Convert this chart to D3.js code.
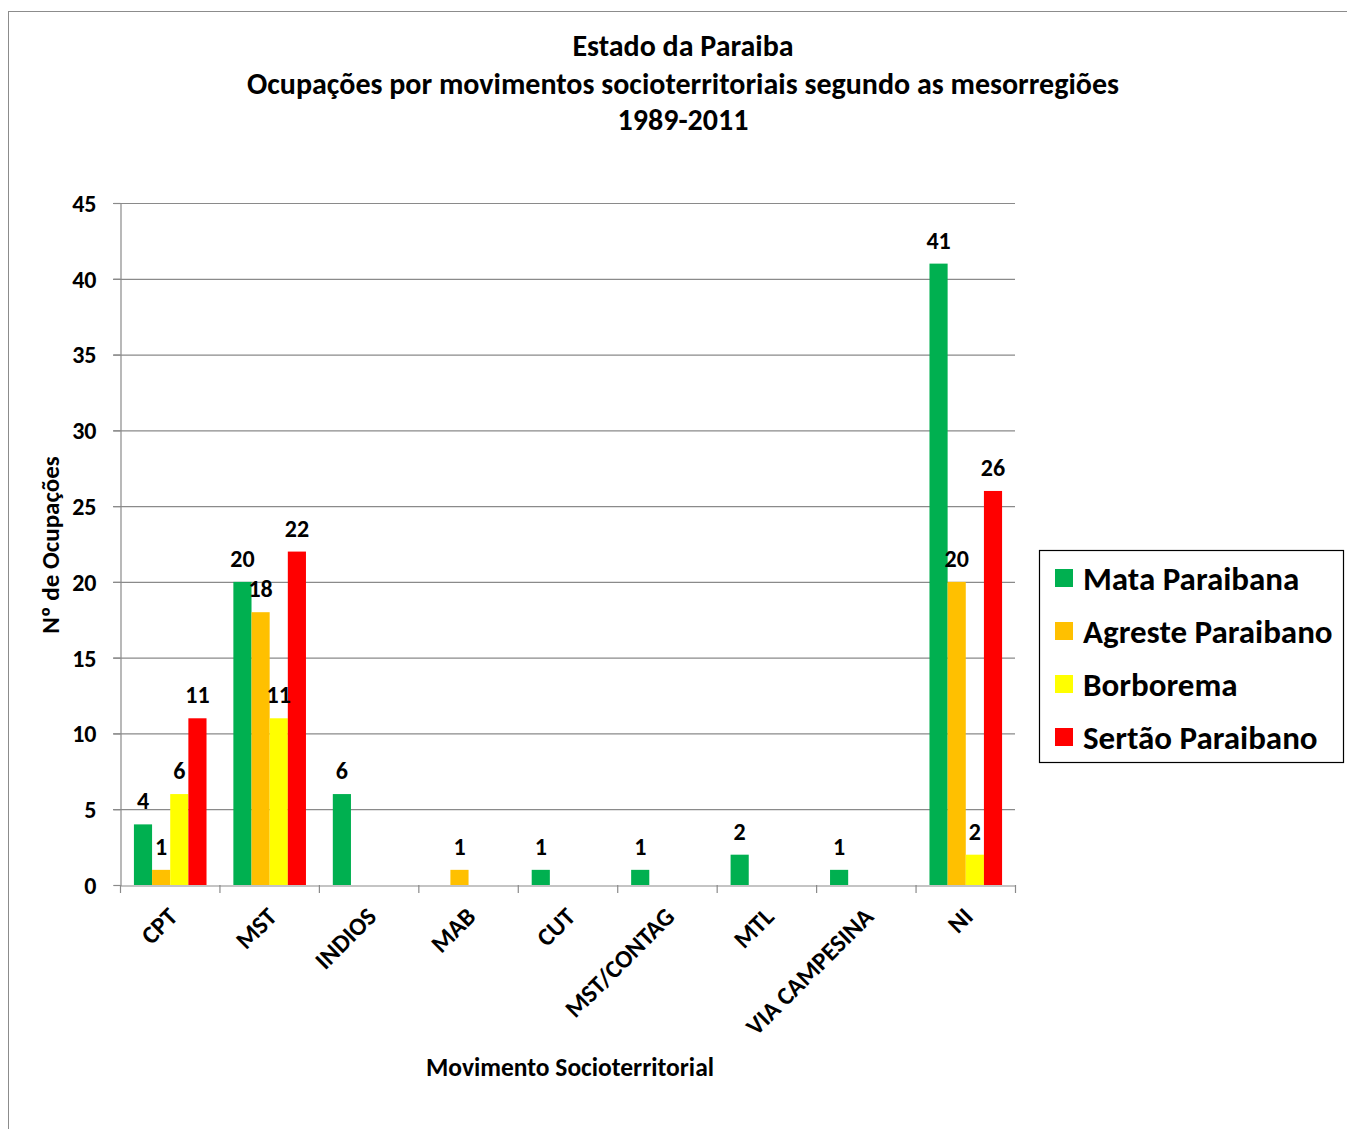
<!DOCTYPE html>
<html><head><meta charset="utf-8">
<script src="https://cdn.jsdelivr.net/npm/d3@7"></script>
<style>
body{margin:0;background:#fff;}
text{font-family:Carlito,Calibri,Lato,"Open Sans",sans-serif;font-weight:bold;fill:#000;}
</style></head>
<body><svg id="c" width="1347" height="1129"></svg>
<script>
const categories = ["CPT","MST","INDIOS","MAB","CUT","MST/CONTAG","MTL","VIA CAMPESINA","NI"];
const seriesNames = ["Mata Paraibana","Agreste Paraibano","Borborema","Sertão Paraibano"];
const mata     = [4, 20, 6, null, 1, 1, 2, 1, 41];
const agreste  = [1, 18, null, 1, null, null, null, null, 20];
const borborema= [6, 11, null, null, null, null, null, null, 2];
const sertao   = [11, 22, null, null, null, null, null, null, 26];
const yTicks = [0,5,10,15,20,25,30,35,40,45];
const colors = ["#00B050","#FFC000","#FFFF00","#FF0000"];
const titleLines = ["Estado da Paraiba","Ocupações por movimentos socioterritoriais segundo as mesorregiões","1989-2011"];

const seriesValues = [mata, agreste, borborema, sertao];
const svg = d3.select("#c");

// outer border
svg.append("rect").attr("x",8.5).attr("y",11.5).attr("width",1360).attr("height",1140)
  .attr("fill","none").attr("stroke","#8c8c8c").attr("stroke-width",1);

const pL=120, pR=1015, pT=203, pB=885;
const x0 = d3.scaleBand().domain(categories).range([pL,pR]).paddingInner(0).paddingOuter(0);
const bw = x0.bandwidth();
const x1 = d3.scaleBand().domain(seriesNames).range([bw*0.14, bw*0.87]).padding(0);
const y = d3.scaleLinear().domain([0,45]).range([pB,pT]);

// gridlines
svg.append("g").selectAll("line").data(yTicks.filter(d=>d>0)).join("line")
  .attr("x1",pL-7).attr("x2",pR).attr("y1",d=>y(d)+0.5).attr("y2",d=>y(d)+0.5)
  .attr("stroke","#8a8a8a").attr("stroke-width",1.2);

// y axis
const yAxis = svg.append("g").attr("transform",`translate(${pL+0.5},0)`)
  .call(d3.axisLeft(y).tickValues(yTicks).tickSize(7).tickPadding(17));
yAxis.select(".domain").attr("stroke","#8a8a8a").attr("stroke-width",1.2);
yAxis.selectAll(".tick line").attr("stroke","#8a8a8a").attr("stroke-width",1.2);
yAxis.selectAll(".tick text").style("font-size","24px").style("font-family","Carlito,Calibri,Lato,sans-serif").style("font-weight","bold").attr("fill","#000").attr("dy","0.35em");

// bars
const flat = [];
categories.forEach((c,i)=>seriesNames.forEach((s,j)=>{
  const v = seriesValues[j][i];
  if(v!=null) flat.push({c,s,v,j});
}));
svg.append("g").selectAll("rect").data(flat).join("rect")
  .attr("x",d=>x0(d.c)+x1(d.s)).attr("width",x1.bandwidth())
  .attr("y",d=>y(d.v)).attr("height",d=>y(0)-y(d.v))
  .attr("fill",d=>colors[d.j]);

// x axis
const xAxis = svg.append("g").attr("transform",`translate(0,${pB+0.5})`)
  .call(d3.axisBottom(x0).tickSize(0).tickFormat(""));
xAxis.select(".domain").attr("stroke","#8a8a8a").attr("stroke-width",1.2);
const tickPos = categories.map(c=>x0(c)).concat([pR]);
svg.append("g").selectAll("line").data(tickPos).join("line")
  .attr("x1",d=>d+0.5).attr("x2",d=>d+0.5).attr("y1",pB).attr("y2",pB+8)
  .attr("stroke","#8a8a8a").attr("stroke-width",1.2);

// x labels
svg.append("g").selectAll("text").data(categories).join("text")
  .attr("transform",d=>`translate(${x0(d)+bw/2+3},${pB+27}) rotate(-45)`)
  .attr("text-anchor","end").attr("dy","0.35em")
  .style("font-size","25px").text(d=>d);

// data labels
svg.append("g").selectAll("text").data(flat).join("text")
  .attr("x",d=>x0(d.c)+x1(d.s)+x1.bandwidth()/2).attr("y",d=>y(d.v)-15)
  .attr("text-anchor","middle").style("font-size","24px").text(d=>d.v);

// title
svg.append("g").selectAll("text").data(titleLines).join("text")
  .attr("x",683).attr("y",(d,i)=>[56,94,130][i]).attr("text-anchor","middle")
  .style("font-size","30px").text(d=>d);

// axis titles
svg.append("text").attr("transform","translate(59,545) rotate(-90)").attr("text-anchor","middle")
  .style("font-size","25px").text("Nº de Ocupações");
svg.append("text").attr("x",570).attr("y",1076).attr("text-anchor","middle")
  .style("font-size","25.5px").text("Movimento Socioterritorial");

// legend
const lg = svg.append("g");
lg.append("rect").attr("x",1039.5).attr("y",550.5).attr("width",304).attr("height",212)
  .attr("fill","#fff").attr("stroke","#000").attr("stroke-width",1.2);
const items = lg.selectAll("g").data(seriesNames).join("g")
  .attr("transform",(d,i)=>`translate(1055,${578+i*53})`);
items.append("rect").attr("x",0).attr("y",-9).attr("width",18).attr("height",18).attr("fill",(d,i)=>colors[i]);
items.append("text").attr("x",28).attr("y",0).attr("dy","0.35em").style("font-size","33px").text(d=>d);
</script></body></html>
